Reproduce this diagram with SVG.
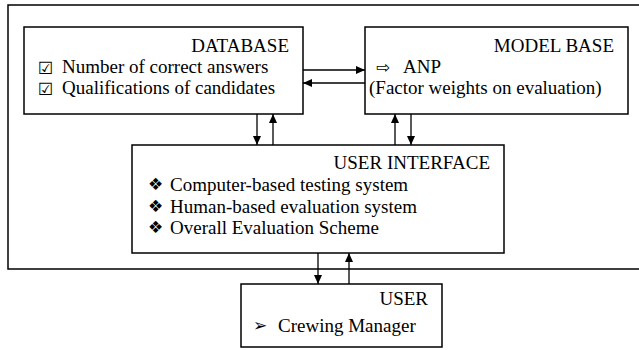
<svg xmlns="http://www.w3.org/2000/svg" width="639" height="350" viewBox="0 0 639 350">
<defs>
<marker id="ah" markerWidth="9" markerHeight="9" refX="9" refY="4.5" orient="auto" markerUnits="userSpaceOnUse">
<path d="M0,0.5 L9,4.5 L0,8.5 Z" fill="#000"/>
</marker>
<style>
.box{fill:#fff;stroke:#000;stroke-width:1.5}
.t{font-family:"Liberation Serif","Times New Roman",serif;font-size:19px;fill:#000}
.s{font-family:"DejaVu Sans",sans-serif;font-size:17px;fill:#000}
.r{text-anchor:end}
.c{stroke:#000;stroke-width:1.3;fill:none;marker-end:url(#ah)}
</style>
</defs>
<rect x="8" y="5" width="640" height="264" fill="#fff" stroke="#000" stroke-width="1.5"/>
<g id="database">
<rect class="box" x="24" y="27" width="279" height="87"/>
<text class="t r" x="289" y="52">DATABASE</text>
<text class="s" x="38" y="74">☑</text>
<text class="t" x="62" y="73">Number of correct answers</text>
<text class="s" x="38" y="95">☑</text>
<text class="t" x="62" y="94">Qualifications of candidates</text>
</g>
<g id="modelbase">
<rect class="box" x="365" y="27" width="263" height="87"/>
<text class="t r" x="614" y="52">MODEL BASE</text>
<text class="s" x="376" y="73">⇨</text>
<text class="t" x="403" y="73">ANP</text>
<text class="t" x="369" y="94">(Factor weights on evaluation)</text>
</g>
<g id="userinterface">
<rect class="box" x="132" y="145" width="372" height="108"/>
<text class="t r" x="490" y="169">USER INTERFACE</text>
<text class="s" x="148" y="190">❖</text>
<text class="t" x="170" y="191">Computer-based testing system</text>
<text class="s" x="148" y="212">❖</text>
<text class="t" x="170" y="213">Human-based evaluation system</text>
<text class="s" x="148" y="233">❖</text>
<text class="t" x="170" y="234">Overall Evaluation Scheme</text>
</g>
<g id="user">
<rect class="box" x="241" y="284" width="201" height="63"/>
<text class="t r" x="428" y="305">USER</text>
<text class="s" x="253" y="331">➢</text>
<text class="t" x="278" y="332">Crewing Manager</text>
</g>
<g id="connectors">
<line class="c" x1="303" y1="70" x2="365" y2="70"/>
<line class="c" x1="365" y1="83" x2="303" y2="83"/>
<line class="c" x1="257" y1="114" x2="257" y2="145"/>
<line class="c" x1="273" y1="145" x2="273" y2="114"/>
<line class="c" x1="395" y1="145" x2="395" y2="114"/>
<line class="c" x1="411" y1="114" x2="411" y2="145"/>
<line class="c" x1="318" y1="253" x2="318" y2="284"/>
<line class="c" x1="349" y1="284" x2="349" y2="253"/>
</g>
</svg>
